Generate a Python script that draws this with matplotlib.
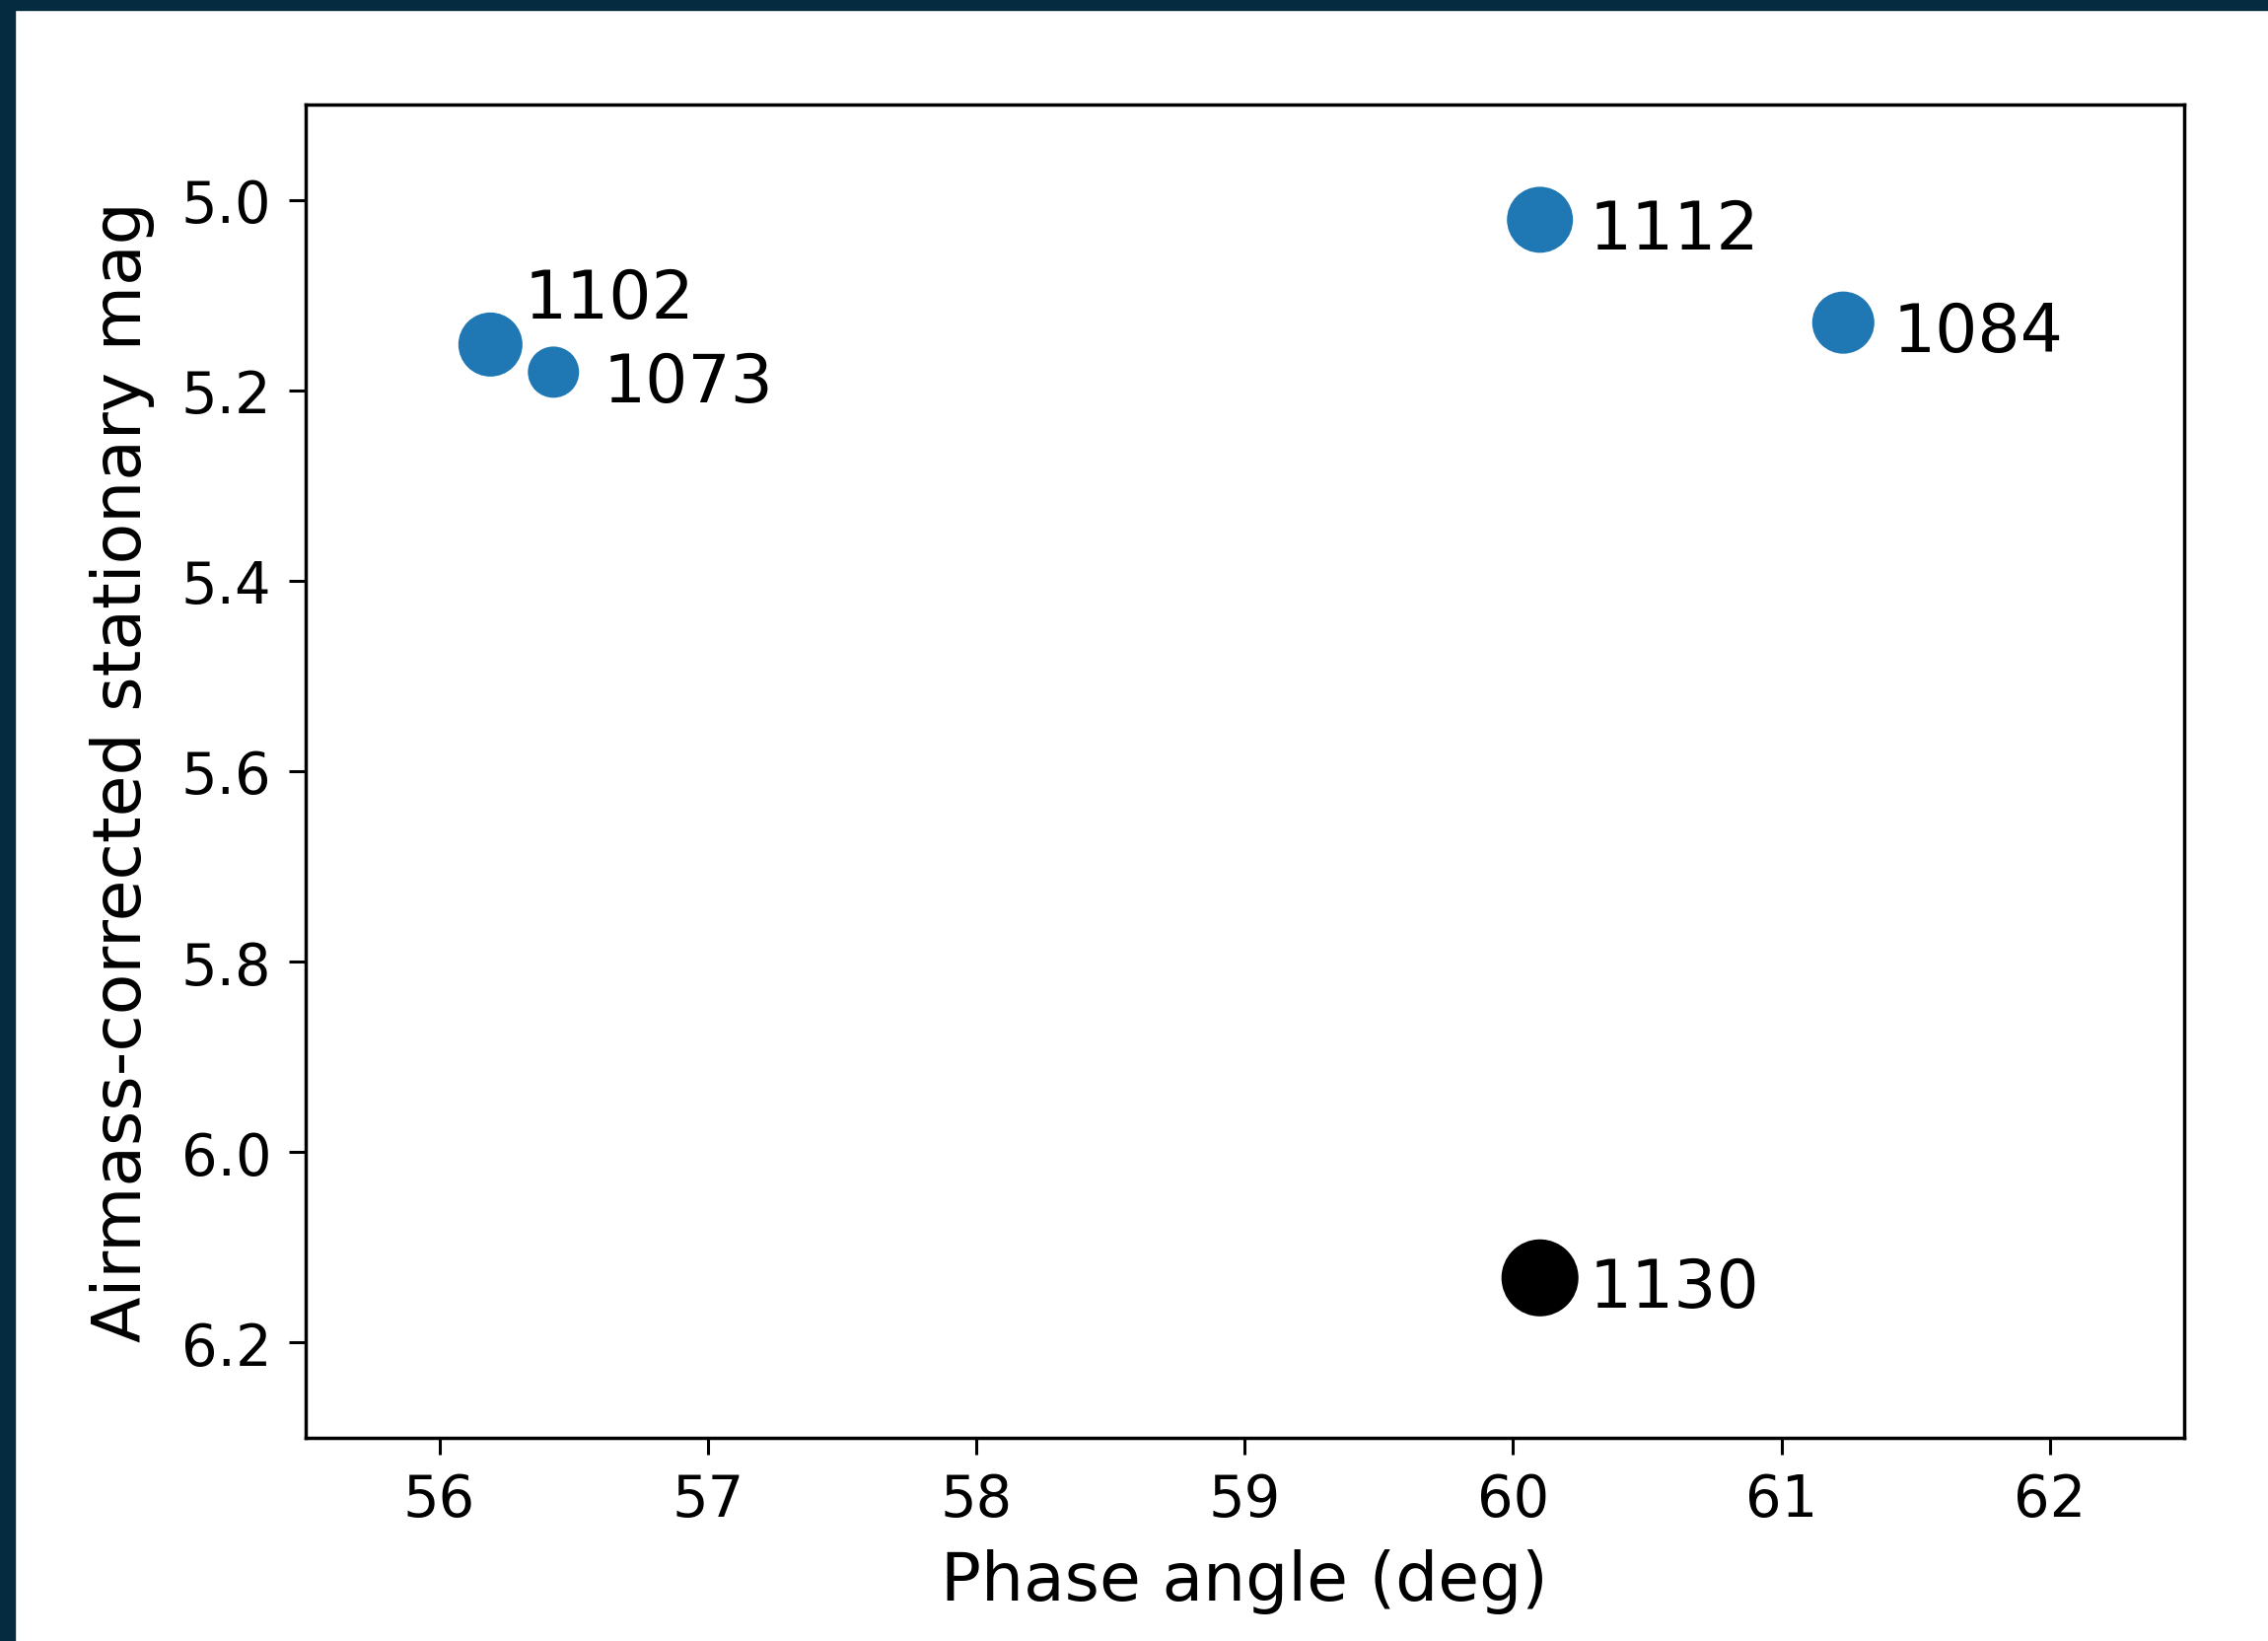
import matplotlib
matplotlib.use("Agg")
import matplotlib.pyplot as plt
from matplotlib.patches import Rectangle

# observation id, phase angle (deg), airmass-corrected stationary mag
obs_ids = ["1102", "1073", "1112", "1084", "1130"]
phase_deg = [56.19, 56.425, 60.10, 61.23, 60.10]
mag = [5.152, 5.181, 5.021, 5.129, 6.132]
point_colors = ["#1f77b4", "#1f77b4", "#1f77b4", "#1f77b4", "black"]
# marker diameters in points
marker_d = [46.8, 37.4, 48.2, 45.4, 56.2]
# label offsets (points) from each point
label_off = [(25, 20), (36, -21), (36, -21), (36, -21), (36, -21)]

x_ticks = [56, 57, 58, 59, 60, 61, 62]
y_ticks = [5.0, 5.2, 5.4, 5.6, 5.8, 6.0, 6.2]

dpi = 100
fig = plt.figure(figsize=(23.0, 16.65), dpi=dpi)
fig.patch.set_facecolor("white")

# dark frame along the top and left edges
frame = "#052b41"
fig.patches.append(Rectangle((0, 1 - 11 / 1665), 1, 11 / 1665,
                             transform=fig.transFigure, color=frame, zorder=0))
fig.patches.append(Rectangle((0, 0), 15 / 2300, 1,
                             transform=fig.transFigure, color=frame, zorder=0))

ax = fig.add_axes([309.5 / 2300, 1 - 1459 / 1665,
                   (2215 - 309.5) / 2300, (1459 - 107) / 1665])

ax.scatter(phase_deg, mag, s=[d ** 2 for d in marker_d], c=point_colors,
           linewidths=0, zorder=3)
for name, x, y, off in zip(obs_ids, phase_deg, mag, label_off):
    ax.annotate(name, (x, y), xytext=off, textcoords="offset points",
                fontsize=49, va="baseline", ha="left")

ax.set_xlim(55.5, 62.5)
ax.set_ylim(6.3, 4.9)
ax.set_xticks(x_ticks)
ax.set_yticks(y_ticks)
ax.set_yticklabels([f"{v:.1f}" for v in y_ticks])

ax.tick_params(axis="both", labelsize=41.5, length=12.5, width=2.2, pad=12)
for sp in ax.spines.values():
    sp.set_linewidth(2.5)

ax.set_xlabel("Phase angle (deg)", fontsize=49, labelpad=15)
ax.set_ylabel("Airmass-corrected stationary mag", fontsize=49, labelpad=19)

fig.savefig("out.png", dpi=dpi)
